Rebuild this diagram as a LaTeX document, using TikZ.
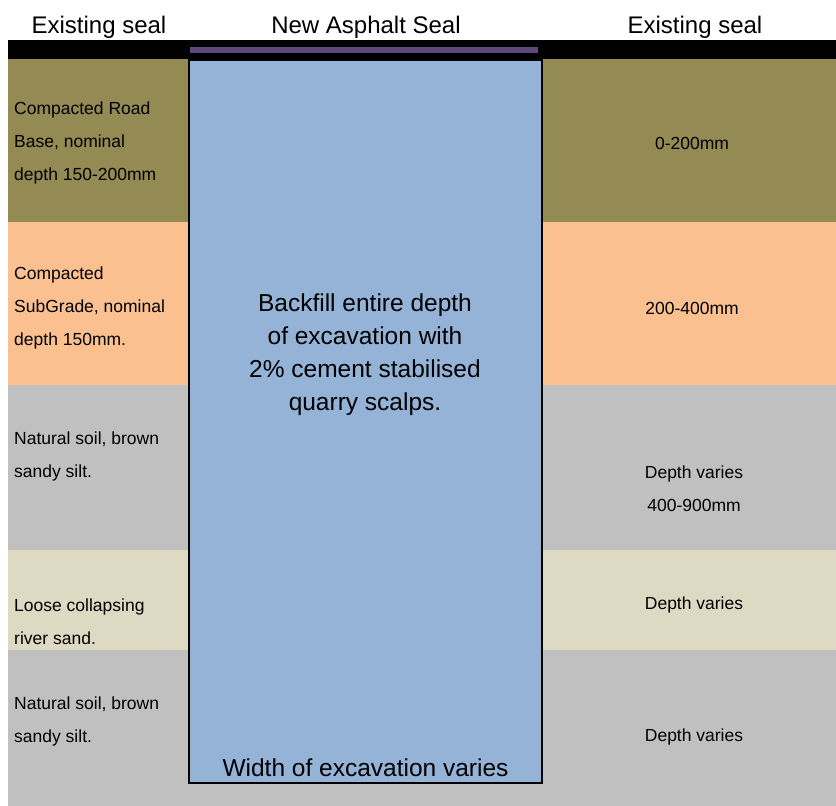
\documentclass[tikz,border=0pt]{standalone}
\usepackage{fontspec}
\setmainfont{Liberation Sans}
\usetikzlibrary{positioning}
\definecolor{roadbase}{HTML}{948A54}
\definecolor{subgrade}{HTML}{FAC090}
\definecolor{soil}{HTML}{C0C0C0}
\definecolor{riversand}{HTML}{DDD9C3}
\definecolor{backfill}{HTML}{95B3D7}
\definecolor{sealpurple}{HTML}{5F497A}
\begin{document}
\begin{tikzpicture}[x=1pt,y=-1pt]
                \tikzstyle{toptext} = [font=\fontsize{24}{28}\selectfont, inner sep=0pt]
                \tikzstyle{smalltext} = [font=\fontsize{17.5}{33}\selectfont, align=left, inner sep=0pt]
                \tikzstyle{depthtext} = [font=\fontsize{17.5}{33}\selectfont, align=center, inner sep=0pt]
                \tikzstyle{bigtext} = [font=\fontsize{24.5}{33}\selectfont, align=center, inner sep=0pt]
                \useasboundingbox (0,0) rectangle (836,806);
                \fill[white] (0,0) rectangle (836,806);
                % ground layers
                \fill[roadbase] (8,59) rectangle (836,222);
                \fill[subgrade] (8,222) rectangle (836,385);
                \fill[soil] (8,385) rectangle (836,550);
                \fill[riversand] (8,550) rectangle (836,650);
                \fill[soil] (8,650) rectangle (836,806);
                \fill[black] (8,40) rectangle (836,59);
                \node (trench) [draw=black, line width=2pt, fill=backfill, anchor=north west, inner sep=0pt, minimum width=353pt, minimum height=723pt] at (188,59) {};
                \fill[sealpurple] (190,47) rectangle (538,53);

                \node (leftseal) [toptext] at (99,27) {Existing seal};
                \node (newseal) [toptext] at (366,27) {New Asphalt Seal};
                \node (rightseal) [toptext] at (695,27) {Existing seal};

                \node (basenote) [smalltext, anchor=west] at (14,143) {Compacted Road\\Base, nominal\\depth 150-200mm};
                \node (subgradenote) [smalltext, anchor=west] at (14,308) {Compacted\\SubGrade, nominal\\depth 150mm.};
                \node (soilnote) [smalltext, anchor=west] at (14,456) {Natural soil, brown\\sandy silt.};
                \node (sandnote) [smalltext, anchor=west] at (14,622) {Loose collapsing\\river sand.};
                \node (soilnote2) [smalltext, anchor=west] at (14,721) {Natural soil, brown\\sandy silt.};

                \node (basedepth) [depthtext] at (692,143) {0-200mm};
                \node (subgradedepth) [depthtext] at (692,308) {200-400mm};
                \node (soildepth) [depthtext] at (694,489) {Depth varies\\400-900mm};
                \node (sanddepth) [depthtext] at (694,605) {Depth varies};
                \node (soildepth2) [depthtext] at (694,737) {Depth varies};

                \node (fillnote) [bigtext] at (365,355) {Backfill entire depth\\of excavation with\\2\% cement stabilised\\quarry scalps.};
                \node (widthnote) [bigtext, above=7pt of trench.south] {Width of excavation varies};
\end{tikzpicture}
\end{document}
